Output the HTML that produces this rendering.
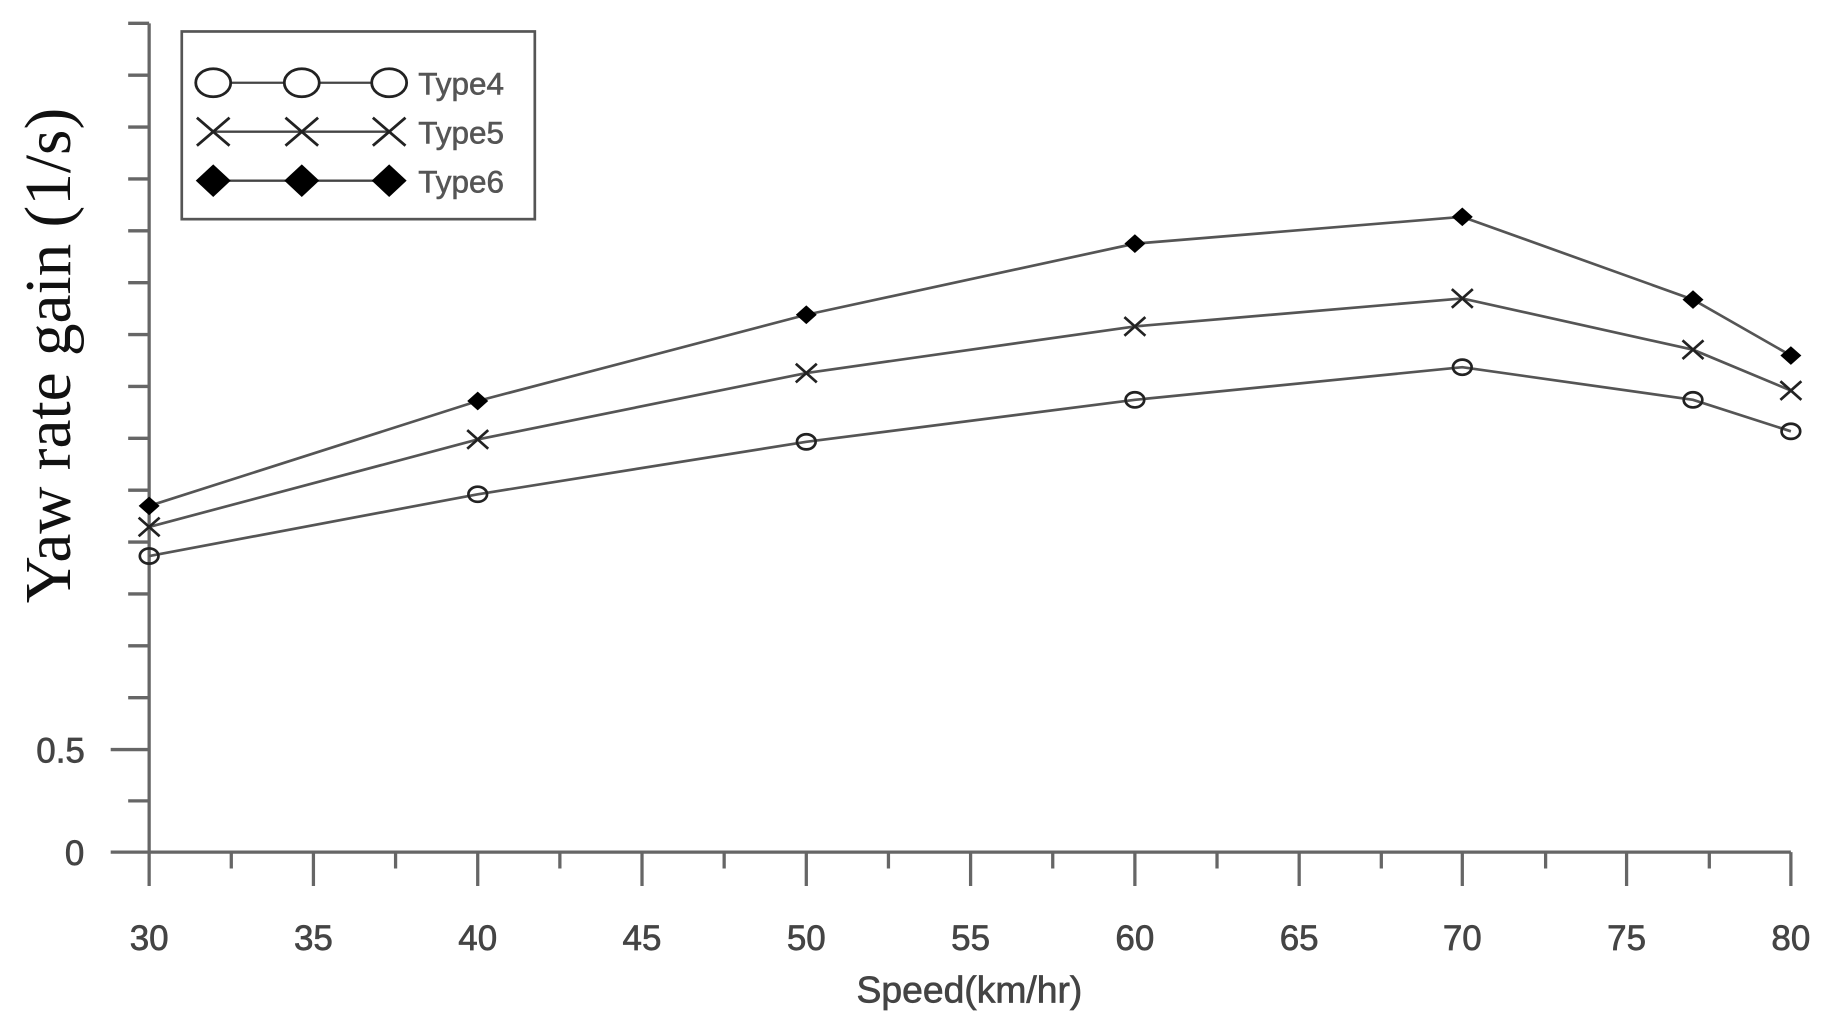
<!DOCTYPE html>
<html><head><meta charset="utf-8"><style>html,body{margin:0;padding:0;background:#fff}svg{display:block}</style></head>
<body>
<svg width="1827" height="1027" viewBox="0 0 1568 881" preserveAspectRatio="none" xmlns="http://www.w3.org/2000/svg">
<rect width="1568" height="881" fill="#fff"/>
<g stroke="#666" stroke-width="2.8" fill="none">
<line x1="128" y1="20" x2="128" y2="760"/>
<line x1="95" y1="731" x2="1537" y2="731"/>
<line x1="95" y1="643" x2="128" y2="643"/>
<path d="M110 687H128M110 598.5H128M110 554H128M110 509.5H128M110 465H128M110 420.5H128M110 376H128M110 331.5H128M110 287H128M110 242.5H128M110 198H128M110 153.5H128M110 109H128M110 64.5H128M110 20H128"/>
<path d="M269 731V760M410 731V760M551 731V760M692 731V760M833 731V760M974 731V760M1115 731V760M1255 731V760M1396 731V760M1537 731V760"/>
<path d="M198.5 731V745M339.5 731V745M480.5 731V745M621.5 731V745M762.5 731V745M903.5 731V745M1044.5 731V745M1185.5 731V745M1326.5 731V745M1467 731V745"/>
</g>
<g font-family="Liberation Sans, sans-serif" font-size="30" fill="#444" text-anchor="middle" stroke="#444" stroke-width="0.6">
<text x="128" y="815">30</text><text x="269" y="815">35</text><text x="410" y="815">40</text><text x="551" y="815">45</text><text x="692" y="815">50</text><text x="833" y="815">55</text><text x="974" y="815">60</text><text x="1115" y="815">65</text><text x="1255" y="815">70</text><text x="1396" y="815">75</text><text x="1537" y="815">80</text>
<text x="832" y="860" font-size="32">Speed(km/hr)</text>
<text x="52" y="654">0.5</text><text x="64" y="742">0</text>
</g>
<text transform="translate(60,305) rotate(-90)" font-family="Liberation Serif, serif" font-size="56" fill="#111" text-anchor="middle">Yaw rate gain (1/s)</text>
<g stroke="#555" stroke-width="2.3" fill="none">
<polyline points="128,477 410,424 692,379 974,343 1255,315 1453,343 1537,370"/>
<polyline points="128,452 410,377 692,320 974,280 1255,256 1453,300 1537,335"/>
<polyline points="128,434 410,344 692,270 974,209 1255,186 1453,257 1537,305"/>
</g>
<g stroke="#222" stroke-width="2.3" fill="none">
<ellipse cx="128" cy="477" rx="8" ry="6.5"/><ellipse cx="410" cy="424" rx="8" ry="6.5"/><ellipse cx="692" cy="379" rx="8" ry="6.5"/><ellipse cx="974" cy="343" rx="8" ry="6.5"/><ellipse cx="1255" cy="315" rx="8" ry="6.5"/><ellipse cx="1453" cy="343" rx="8" ry="6.5"/><ellipse cx="1537" cy="370" rx="8" ry="6.5"/>
<path d="M119 444l18 16M137 444l-18 16M401 369l18 16M419 369l-18 16M683 312l18 16M701 312l-18 16M965 272l18 16M983 272l-18 16M1246 248l18 16M1264 248l-18 16M1444 292l18 16M1462 292l-18 16M1528 327l18 16M1546 327l-18 16"/>
</g>
<g fill="#000">
<path d="M128 426l9 8-9 8-9-8z"/><path d="M410 336l9 8-9 8-9-8z"/><path d="M692 262l9 8-9 8-9-8z"/><path d="M974 201l9 8-9 8-9-8z"/><path d="M1255 178l9 8-9 8-9-8z"/><path d="M1453 249l9 8-9 8-9-8z"/><path d="M1537 297l9 8-9 8-9-8z"/>
</g>
<rect x="156" y="27" width="303" height="161" fill="none" stroke="#555" stroke-width="2.3"/>
<g stroke="#444" stroke-width="2" fill="none">
<line x1="183" y1="71" x2="334" y2="71"/><line x1="183" y1="113" x2="334" y2="113"/><line x1="183" y1="155" x2="334" y2="155"/>
<ellipse cx="183" cy="71" rx="15" ry="12" fill="#fff" stroke="#222" stroke-width="2.4"/><ellipse cx="259" cy="71" rx="15" ry="12" fill="#fff" stroke="#222" stroke-width="2.4"/><ellipse cx="334" cy="71" rx="15" ry="12" fill="#fff" stroke="#222" stroke-width="2.4"/>
<path stroke="#222" stroke-width="2.4" d="M169 101l28 24M197 101l-28 24M245 101l28 24M273 101l-28 24M320 101l28 24M348 101l-28 24"/>
</g>
<g fill="#000"><path d="M183 141l15 14-15 14-15-14z"/><path d="M259 141l15 14-15 14-15-14z"/><path d="M334 141l15 14-15 14-15-14z"/></g>
<g font-family="Liberation Sans, sans-serif" font-size="27" fill="#555" stroke="#555" stroke-width="0.5">
<text x="359" y="81">Type4</text><text x="359" y="123">Type5</text><text x="359" y="165">Type6</text>
</g>
</svg>
</body></html>
